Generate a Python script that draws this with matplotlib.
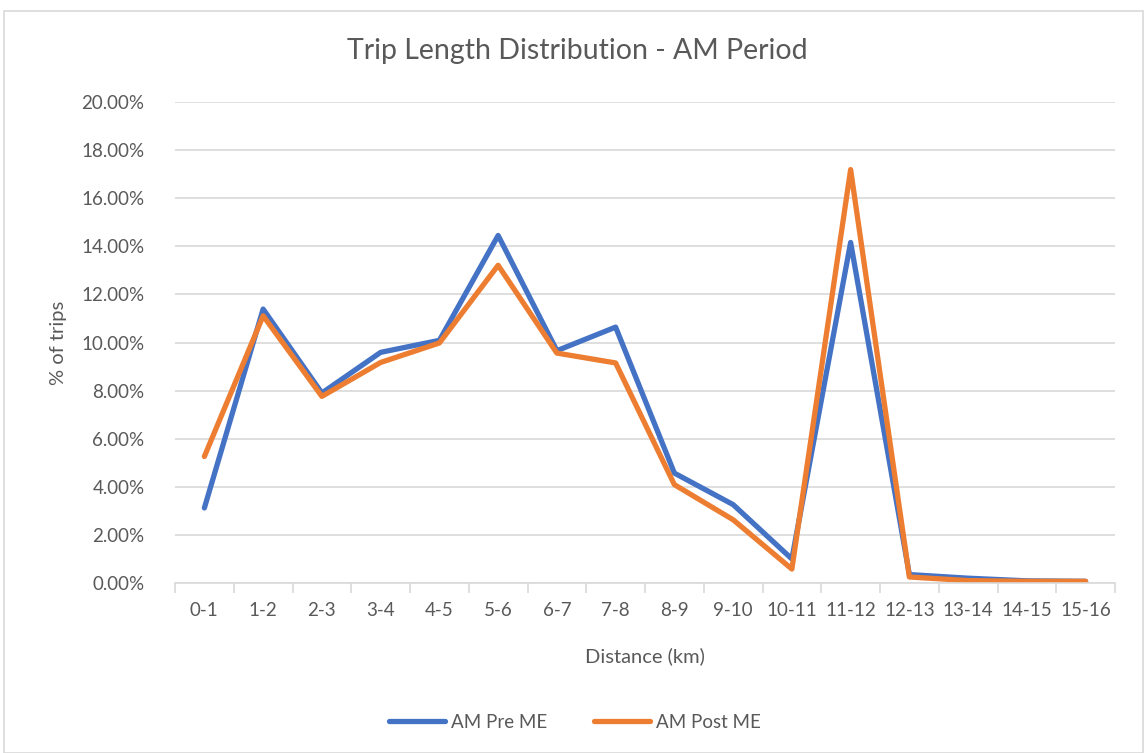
import matplotlib.pyplot as plt
from matplotlib.patches import Rectangle
from matplotlib.ticker import FuncFormatter, FixedLocator

plt.rcParams['font.family'] = ['Lato', 'DejaVu Sans']

categories = ['0-1', '1-2', '2-3', '3-4', '4-5', '5-6', '6-7', '7-8',
              '8-9', '9-10', '10-11', '11-12', '12-13', '13-14', '14-15', '15-16']
am_pre = [3.12, 11.39, 7.90, 9.59, 10.09, 14.45, 9.66, 10.64,
          4.57, 3.26, 1.00, 14.16, 0.35, 0.20, 0.09, 0.07]
am_post = [5.26, 11.11, 7.76, 9.17, 9.98, 13.21, 9.56, 9.15,
           4.09, 2.63, 0.58, 17.19, 0.25, 0.10, 0.07, 0.07]

grey = '#595959'
grid = '#d9d9d9'

fig = plt.figure(figsize=(11.47, 7.53), dpi=100)
fig.patches.append(Rectangle((4 / 1147, 0), 1139 / 1147, 742 / 753,
                             transform=fig.transFigure, fill=False,
                             edgecolor=grid, linewidth=1.2))
ax = fig.add_axes([175 / 1147, 1 - 583 / 753, 940 / 1147, 481 / 753])

x = list(range(len(categories)))
ax.plot(x, am_pre, color='#4472C4', linewidth=3.8, label='AM Pre ME', solid_capstyle='round')
ax.plot(x, am_post, color='#ED7D31', linewidth=3.8, label='AM Post ME', solid_capstyle='round')

ax.set_xlim(-0.5, len(categories) - 0.5)
ax.set_ylim(0, 20)
ax.set_yticks([i * 2 for i in range(11)])
ax.yaxis.set_major_formatter(FuncFormatter(lambda v, p: '%.2f%%' % v))
ax.set_xticks(x)
ax.set_xticklabels(categories)
ax.xaxis.set_minor_locator(FixedLocator([i - 0.5 for i in range(len(categories) + 1)]))

ax.grid(axis='y', color=grid, linewidth=1.2)
ax.set_axisbelow(True)
for s in ['top', 'right', 'left']:
    ax.spines[s].set_visible(False)
ax.spines['bottom'].set_color(grid)
ax.spines['bottom'].set_linewidth(1.2)

ax.tick_params(axis='y', length=0, pad=22, labelsize=13.5, labelcolor=grey)
ax.tick_params(axis='x', which='major', length=0, pad=14, labelsize=13.5, labelcolor=grey)
ax.tick_params(axis='x', which='minor', length=7, width=1.2, color=grid)

ax.set_xlabel('Distance (km)', fontsize=14.5, color=grey, labelpad=20)
ax.set_ylabel('% of trips', fontsize=14.5, color=grey, labelpad=10)
fig.text(577 / 1147, 1 - 51 / 753, 'Trip Length Distribution - AM Period',
         ha='center', va='center', fontsize=20.5, color=grey)

fig.legend(loc='center', bbox_to_anchor=(575 / 1147, 1 - 722 / 753), ncol=2,
           frameon=False, fontsize=13.5, labelcolor=grey, handlelength=3,
           columnspacing=2.5, handletextpad=0.3)

fig.savefig('out.png', dpi=100)
